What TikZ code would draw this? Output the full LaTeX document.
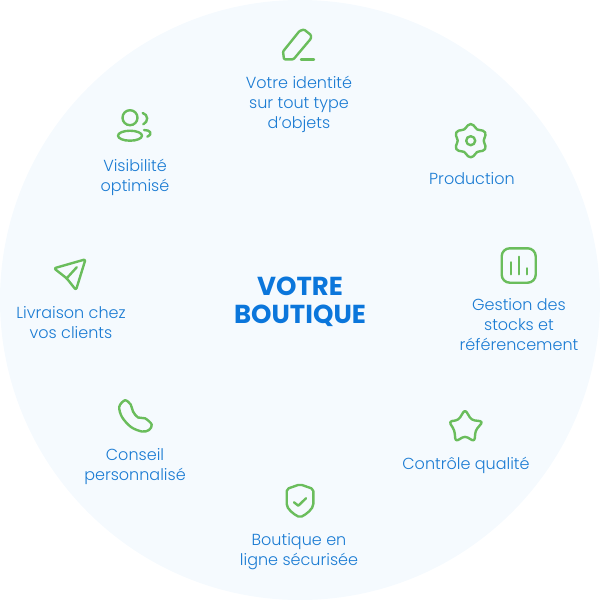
\documentclass[tikz,border=0pt]{standalone}
\usepackage{fontspec}
\setmainfont{Poppins Light}[BoldFont={Poppins Bold}]
\usepackage{tikz}
\definecolor{discbg}{HTML}{F5FAFE}
\definecolor{labelblue}{HTML}{1A7BD3}
\definecolor{titleblue}{HTML}{0B76DB}
\definecolor{icongreen}{HTML}{6ABD5C}
\tikzstyle{label} = [text=labelblue, align=center, font=\fontsize{16}{20}\selectfont, inner sep=0pt]
\tikzstyle{title} = [text=titleblue, align=center, font=\fontsize{26}{28}\selectfont\bfseries, inner sep=0pt]
\tikzstyle{icon} = [draw=icongreen, line width=2.4pt, line cap=round, line join=round]

\begin{document}
\begin{tikzpicture}[x=1pt, y=-1pt]
    \useasboundingbox (0,0) rectangle (600,600);
    % Disc
    \fill[discbg] (300,300) circle (300);

    % Title
    \node[title] (centre) at (300,302) {VOTRE\\BOUTIQUE};

    % Labels
    \node[label] (identite) at (299,104) {Votre identité\\sur tout type\\d’objets};
    \node[label] (production) at (472,179) {Production};
    \node[label] (gestion) at (519,325) {Gestion des\\stocks et\\référencement};
    \node[label] (controle) at (466,465) {Contrôle qualité};
    \node[label] (securisee) at (299,552) {Boutique en\\ligne sécurisée};
    \node[label] (conseil) at (135,467) {Conseil\\personnalisé};
    \node[label] (livraison) at (71,323) {Livraison chez\\vos clients};
    \node[label] (visibilite) at (135,177) {Visibilité\\optimisé};

    % Pencil
    \draw[icon, rounded corners=1pt] (284,59.3) -- (283,51.5) -- (299.5,31) -- (304,29.5) -- (311,35) -- (311,38.5) -- (293.5,59.3) -- cycle;
    \draw[icon] (301,59.5) -- (314,59.5);

    % People
    \draw[icon] (130,117.7) circle (7.5);
    \draw[icon] (130,135.7) ellipse (12 and 5);
    \draw[icon] (142.7,113) .. controls (148.5,114.5) and (148.5,122) .. (143.3,124.3);
    \draw[icon] (144,130) .. controls (150,130) and (153.5,133.5) .. (147.3,136.7);

    % Gear
    \draw[icon, smooth cycle, samples=36, domain=0:350] plot ({470.7+(14.8+1.8*cos(6*(\x-90)))*cos(\x)}, {140.7+(14.8+1.8*cos(6*(\x-90)))*sin(\x)});
    \draw[icon] (470.7,140.7) circle (4.5);

    % Chart
    \draw[icon, rounded corners=8pt] (501.7,248.3) rectangle (535.7,282.7);
    \draw[icon] (510.7,262.3) -- (510.7,274.3);
    \draw[icon] (518.7,256.7) -- (518.7,274.3);
    \draw[icon] (526.7,268.3) -- (526.7,274.3);

    % Star
    \draw[icon, rounded corners=3pt] (465,409.5) -- (471.5,420) -- (483,421.5) -- (475.5,430.5) -- (474.5,441.5) -- (465,436) -- (455.5,441.5) -- (454.5,430.5) -- (449,421.5) -- (458.5,420) -- cycle;

    % Shield
    \draw[icon, rounded corners=2pt] (300,484.3) -- (313.3,489) -- (313.3,502) .. controls (313.3,509) and (306,514.5) .. (300,517.3) .. controls (294,514.5) and (286.7,509) .. (286.7,502) -- (286.7,489) -- cycle;
    \draw[icon] (294,502.3) -- (298.3,505.7) -- (306,498.3);

    % Phone
    \draw[icon] plot[smooth cycle, tension=0.55] coordinates {(119.3,406.7) (125,400.3) (130.7,404.5) (133,411.5) (138,417.5) (145,418.3) (151.7,424.5) (149,430) (142,431.5) (131,427) (122,417)};

    % Plane
    \draw[icon, rounded corners=2pt] (54,268.3) -- (85.5,259.3) -- (76,290) -- (66.7,278.3) -- cycle;
    \draw[icon] (66.7,278.3) -- (76.7,267.3);
\end{tikzpicture}
\end{document}
